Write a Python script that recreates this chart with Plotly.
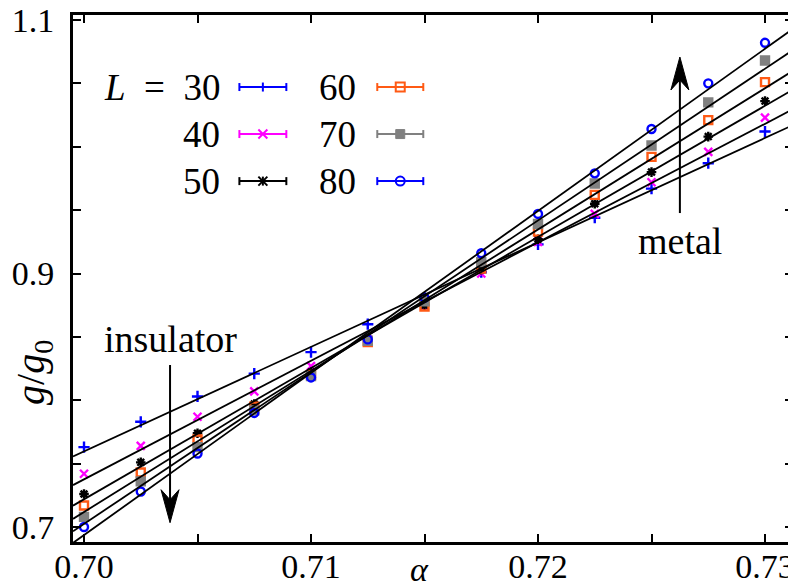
import plotly.graph_objects as go
import numpy as np

# ---------------- data ----------------
alpha = [0.7000, 0.7025, 0.7050, 0.7075, 0.7100, 0.7125, 0.7150,
         0.7175, 0.7200, 0.7225, 0.7250, 0.7275, 0.7300]

sizes = [30, 40, 50, 60, 70, 80]

g_L30 = [0.763, 0.783, 0.803, 0.821, 0.838, 0.860, 0.881, 0.901, 0.923, 0.944, 0.967, 0.987, 1.012]
g_L40 = [0.742, 0.764, 0.787, 0.807, 0.827, 0.848, 0.874, 0.900, 0.925, 0.947, 0.972, 0.996, 1.023]
g_L50 = [0.726, 0.751, 0.774, 0.797, 0.822, 0.848, 0.875, 0.903, 0.927, 0.955, 0.980, 1.008, 1.036]
g_L60 = [0.717, 0.743, 0.769, 0.795, 0.820, 0.846, 0.874, 0.904, 0.933, 0.962, 0.992, 1.021, 1.051]
g_L70 = [0.708, 0.736, 0.763, 0.792, 0.819, 0.847, 0.878, 0.909, 0.939, 0.971, 1.001, 1.035, 1.068]
g_L80 = [0.700, 0.728, 0.758, 0.790, 0.818, 0.848, 0.881, 0.916, 0.947, 0.979, 1.014, 1.050, 1.082]

x_tickvals = [0.70, 0.71, 0.72, 0.73]
x_ticktext = ["0.70", "0.71", "0.72", "0.73"]
x_minorvals = [0.705, 0.715, 0.725]
y_tickvals = [0.70, 0.90, 1.10]
y_ticktext = ["0.7", "0.9", "1.1"]
y_minorvals = [0.75, 0.80, 0.85, 0.95, 1.00, 1.05]

series = [g_L30, g_L40, g_L50, g_L60, g_L70, g_L80]

# ---------------- styles ----------------
colors = ["#0000ff", "#ff00ff", "#000000", "#ff5a14", "#808080", "#0000ff"]
symbols = ["cross-thin-open", "x-thin-open", "asterisk-open", "square-open", "square", "circle-open"]
msizes = [8, 8, 8, 8, 8, 8]
FONT = "Liberation Serif"
XR = [0.699515, 0.731233]
YR = [0.68817, 1.10394]

fig = go.Figure()

for L, g, c, s, ms in zip(sizes, series, colors, symbols, msizes):
    fig.add_trace(go.Scatter(
        x=alpha, y=g, mode="markers", name=f"L = {L}", showlegend=False,
        marker=dict(symbol=s, size=ms, color=c, line=dict(color=c, width=2.4)),
    ))

# linear fits through each data set
xfit = np.array(XR)
for L, g in zip(sizes, series):
    p = np.polyfit(alpha, g, 1)
    fig.add_trace(go.Scatter(
        x=xfit, y=np.polyval(p, xfit), mode="lines", showlegend=False,
        line=dict(color="black", width=1.8), hoverinfo="skip",
    ))

shapes = []
annotations = []

# ---------------- manual legend ----------------
leg_rows = [0.8633, 0.7741, 0.6848]
leg_cols = [  # (text right edge, line x0, line x1, marker x)
    (0.2075, 0.2311, 0.2963, 0.2637),
    (0.3963, 0.4226, 0.4865, 0.4545),
]
for i, (L, c) in enumerate(zip(sizes, colors)):
    col, row = divmod(i, 3)
    tx, lx0, lx1, mx = leg_cols[col]
    y = leg_rows[row]
    label = f"<i>L</i>\u2002=\u2002{L}" if i == 0 else f"{L}"
    annotations.append(dict(xref="paper", yref="paper", x=tx, y=y, text=label,
                            showarrow=False, xanchor="right", yanchor="middle",
                            font=dict(family=FONT, size=37, color="black")))
    shapes.append(dict(type="line", xref="paper", yref="paper", x0=lx0, x1=lx1, y0=y, y1=y,
                       line=dict(color=c, width=2)))
    for xe in (lx0, lx1):
        shapes.append(dict(type="line", xref="paper", yref="paper", xsizemode="pixel",
                           ysizemode="pixel", xanchor=xe, yanchor=y, x0=0, x1=0, y0=-4, y1=4,
                           line=dict(color=c, width=2)))
    base = dict(xref="paper", yref="paper", xsizemode="pixel", ysizemode="pixel",
                xanchor=mx, yanchor=y)
    k = 4.5
    if i in (0, 2):
        shapes.append(dict(type="line", x0=0, x1=0, y0=-k, y1=k, line=dict(color=c, width=2), **base))
    if i in (1, 2):
        shapes.append(dict(type="line", x0=-k, x1=k, y0=-k, y1=k, line=dict(color=c, width=2), **base))
        shapes.append(dict(type="line", x0=-k, x1=k, y0=k, y1=-k, line=dict(color=c, width=2), **base))
    if i == 3:
        shapes.append(dict(type="rect", x0=-k, x1=k, y0=-k, y1=k, line=dict(color=c, width=2), **base))
    if i == 4:
        shapes.append(dict(type="rect", x0=-k, x1=k, y0=-k, y1=k, line=dict(color=c, width=1),
                           fillcolor=c, **base))
    if i == 5:
        shapes.append(dict(type="circle", x0=-k, x1=k, y0=-k, y1=k, line=dict(color=c, width=2), **base))

# ---------------- arrows ----------------
ins_x, ins_top, ins_tip = 0.70379, 0.8278, 0.7034
met_x, met_bot, met_tip = 0.72625, 0.9477, 1.0708
shapes.append(dict(type="line", xref="x", yref="y", x0=ins_x, x1=ins_x, y0=ins_top, y1=ins_tip + 0.012,
                   line=dict(color="black", width=2)))
shapes.append(dict(type="path", xref="x", yref="y", xsizemode="pixel", ysizemode="pixel",
                   xanchor=ins_x, yanchor=ins_tip, path="M0,0 L-9,33 L0,23 L9,33 Z",
                   fillcolor="black", line=dict(color="black", width=1)))
shapes.append(dict(type="line", xref="x", yref="y", x0=met_x, x1=met_x, y0=met_bot, y1=met_tip - 0.012,
                   line=dict(color="black", width=2)))
shapes.append(dict(type="path", xref="x", yref="y", xsizemode="pixel", ysizemode="pixel",
                   xanchor=met_x, yanchor=met_tip, path="M0,0 L-9,-33 L0,-23 L9,-33 Z",
                   fillcolor="black", line=dict(color="black", width=1)))

annotations.append(dict(xref="x", yref="y", x=0.70383, y=0.848, text="insulator", showarrow=False,
                        xanchor="center", yanchor="middle", font=dict(family=FONT, size=38, color="black")))
annotations.append(dict(xref="x", yref="y", x=0.72625, y=0.926, text="metal", showarrow=False,
                        xanchor="center", yanchor="middle", font=dict(family=FONT, size=38, color="black")))

# axis titles
annotations.append(dict(xref="x", yref="paper", x=0.7148, y=-0.052, text="<i>α</i>", showarrow=False,
                        xanchor="center", yanchor="middle", font=dict(family=FONT, size=34, color="black")))
annotations.append(dict(xref="paper", yref="y", x=-0.0548, y=0.822, text="<i>g</i>/<i>g</i><sub>0</sub>",
                        showarrow=False, textangle=-90, xanchor="center", yanchor="middle",
                        font=dict(family=FONT, size=40, color="black")))

axis_common = dict(showline=True, linewidth=3, linecolor="black", mirror="allticks",
                   ticks="inside", ticklen=8, tickwidth=2, tickcolor="black",
                   showgrid=False, zeroline=False, automargin=False,
                   ticklabeloverflow="allow")

# the page body adds an 8px offset, so the figure is 8px smaller than the window
fig.update_layout(
    width=788, height=580,
    margin=dict(l=65, r=3, t=7, b=46),
    paper_bgcolor="white", plot_bgcolor="white",
    showlegend=False,
    xaxis=dict(range=XR, tickmode="array", tickvals=x_tickvals, ticktext=x_ticktext,
               ticklabelstandoff=-8, tickfont=dict(family=FONT, size=34, color="black"),
               minor=dict(tickmode="array", tickvals=x_minorvals, ticks="inside",
                          ticklen=8, tickwidth=2, tickcolor="black", showgrid=False),
               **axis_common),
    yaxis=dict(range=YR, tickmode="array", tickvals=y_tickvals, ticktext=y_ticktext,
               ticklabelstandoff=9, tickfont=dict(family=FONT, size=34, color="black"),
               minor=dict(tickmode="array", tickvals=y_minorvals, ticks="inside",
                          ticklen=8, tickwidth=2, tickcolor="black", showgrid=False),
               **axis_common),
    shapes=shapes, annotations=annotations,
)

fig.write_html("out.html")
